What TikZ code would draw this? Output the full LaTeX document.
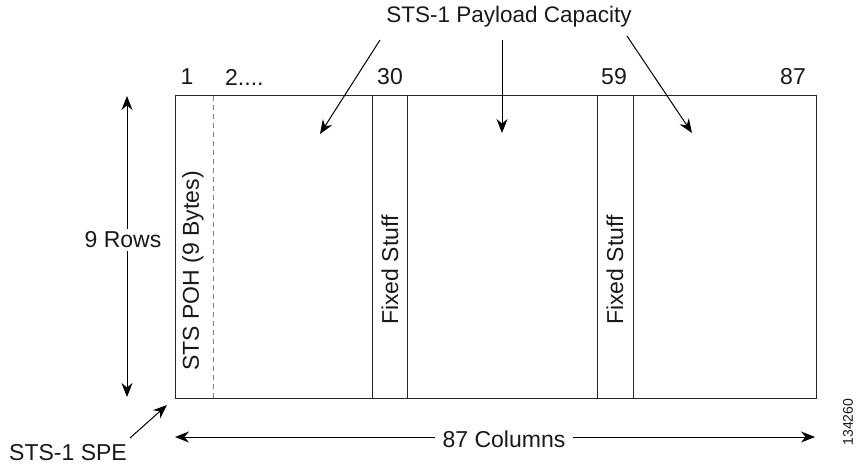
\documentclass[tikz,border=0pt]{standalone}
\usepackage{fontspec}
\setmainfont{Liberation Sans}
\usetikzlibrary{arrows.meta}
\begin{document}
\begin{tikzpicture}[x=1pt,y=-1pt,
  lbl/.style={inner sep=0pt,font=\fontsize{23}{27}\selectfont,text=black!90},
  arr/.style={-{Stealth[length=14pt,width=11pt]},line width=1pt},
  darr/.style={{Stealth[length=14pt,width=11pt]}-{Stealth[length=14pt,width=11pt]},line width=1pt},
  box/.style={line width=1pt,draw=black!85}]
\useasboundingbox (0,0) rectangle (857,468);
% main frame
\draw[box] (175,96) rectangle (816,398);
\draw[dashed,gray,line width=1pt,dash pattern=on 5pt off 4pt] (213,96) -- (213,398);
\draw[box] (372,96) -- (372,398) (407,96) -- (407,398);
\draw[box] (597,96) -- (597,398) (633,96) -- (633,398);
% column numbers
\node[lbl] (c1) at (187,77) {1};
\node[lbl,anchor=west] (c2) at (225,77) {2....};
\node[lbl] (c30) at (390,77) {30};
\node[lbl] (c59) at (614,77) {59};
\node[lbl] (c87) at (793,77) {87};
% rotated labels
\node[lbl,rotate=90] (poh) at (193,271) {STS POH (9 Bytes)};
\node[lbl,rotate=90] (fs1) at (390,270) {Fixed Stuff};
\node[lbl,rotate=90] (fs2) at (615,270) {Fixed Stuff};
% title and arrows
\node[lbl,font=\fontsize{22.5}{27}\selectfont] (title) at (509,17) {STS-1 Payload Capacity};
\coordinate (t1) at (380,40);
\coordinate (t2) at (502,40);
\coordinate (t3) at (627,36);
\coordinate (p1) at (320,134);
\coordinate (p2) at (502,133);
\coordinate (p3) at (692,133);
\draw[arr] (t1) -- (p1);
\draw[arr] (t2) -- (p2);
\draw[arr] (t3) -- (p3);
% rows
\coordinate (rtop) at (127,96);
\coordinate (rbot) at (127,397);
\draw[darr] (rtop) -- (rbot);
\node[lbl,fill=white,inner sep=3pt] (rows) at (123,240) {9 Rows};
% columns
\coordinate (cl) at (175,437);
\coordinate (cr) at (815,437);
\draw[darr] (cl) -- (cr);
\node[lbl,fill=white,inner xsep=8pt,inner ysep=3pt] (cols) at (504,439) {87 Columns};
% SPE
\node[lbl] (spe) at (68,453) {STS-1 SPE};
\coordinate (speS) at (130,438);
\coordinate (speE) at (167,405);
\draw[arr] (speS) -- (speE);
% figure number
\node[inner sep=0pt,rotate=90,font=\fontsize{14}{16}\selectfont,text=black!90] (fig) at (848,422) {134260};
\end{tikzpicture}
\end{document}
